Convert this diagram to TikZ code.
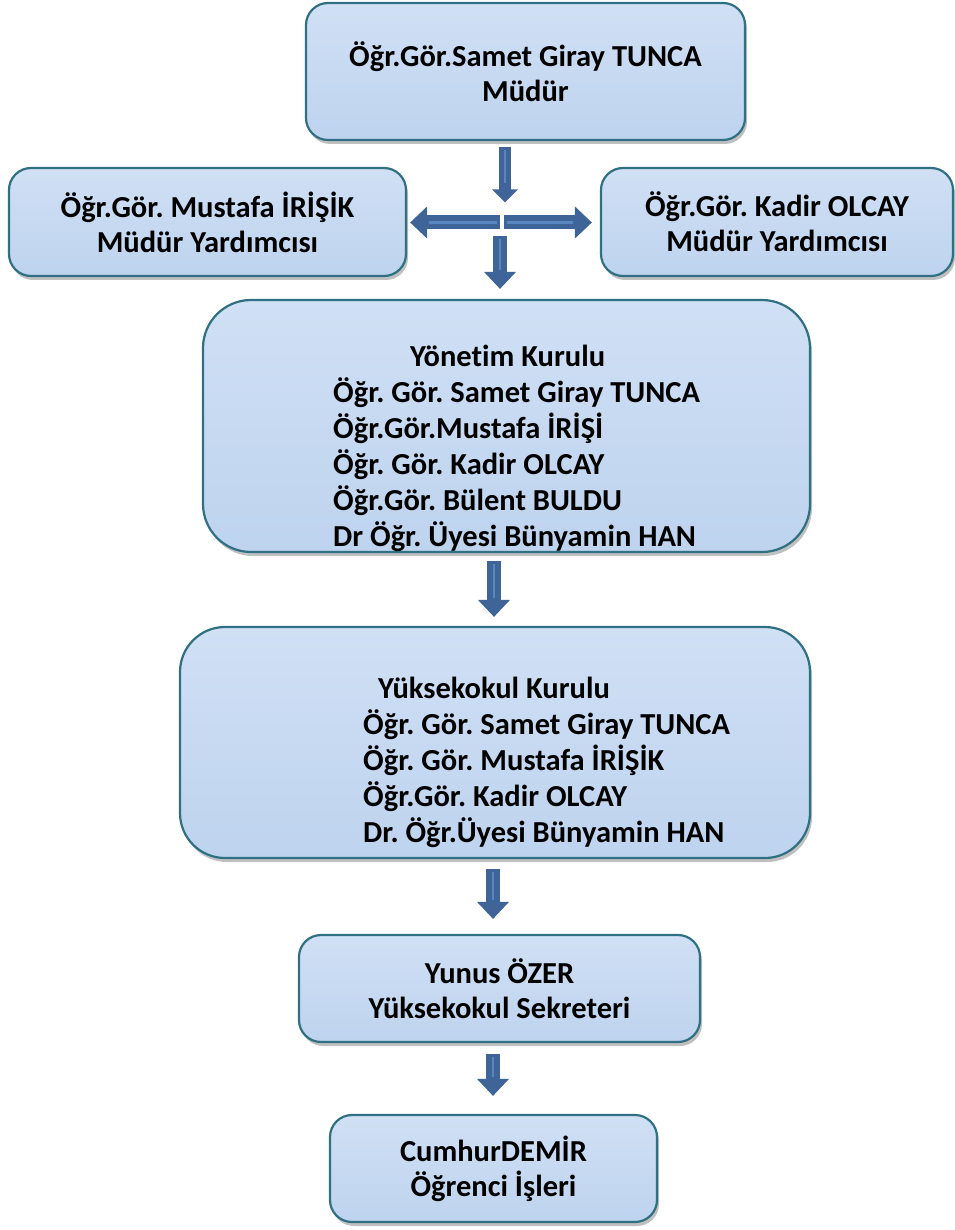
\documentclass[tikz,border=0pt]{standalone}
\usepackage{fontspec}
\setmainfont{Carlito}[Ligatures=NoCommon]
\usetikzlibrary{arrows.meta,shadows,calc}
\definecolor{boxtop}{HTML}{D0E0F5}
\definecolor{boxbot}{HTML}{BED3EE}
\definecolor{boxline}{HTML}{2F7083}
\definecolor{arrowc}{HTML}{3F6598}
\definecolor{stripec}{HTML}{5A86BF}
\frenchspacing
\begin{document}
\begin{tikzpicture}[x=1pt,y=-1pt,
  orgbox/.style={draw=boxline, line width=2.2pt, top color=boxtop, bottom color=boxbot,
    rounded corners=22pt, drop shadow={shadow xshift=2pt,shadow yshift=-4pt,opacity=.35,fill=black!70},
    inner sep=0pt, font=\fontsize{30.5}{35}\selectfont\bfseries, align=center, text=black},
  bigbox/.style={orgbox, rounded corners=48pt},
  lbll/.style={font=\fontsize{30.5}{36}\selectfont\bfseries, align=left, inner sep=0pt, text=black},
  barrow/.style={draw=arrowc, line width=14pt, -{Triangle[width=31pt,length=17pt]},
    postaction={draw=stripec, line width=2.5pt, -, shorten >=19pt, shorten <=3pt}},
]
\useasboundingbox (0,0) rectangle (954,1230);
\fill[white] (0,0) rectangle (954,1230);

\node[orgbox, minimum width=439pt, minimum height=137pt] (top) at (525.5,71.5)
  {Öğr.Gör.Samet Giray TUNCA\\Müdür};
\node[orgbox, minimum width=397pt, minimum height=108pt] (left) at (207.5,222)
  {\rule{0pt}{6pt}Öğr.Gör. Mustafa İRİŞİK\\Müdür Yardımcısı};
\node[orgbox, minimum width=352pt, minimum height=108pt] (right) at (777,222)
  {\rule{0pt}{6pt}Öğr.Gör. Kadir OLCAY\\Müdür Yardımcısı};

\node[bigbox, minimum width=607pt, minimum height=252pt] (yon) at (506.5,426) {};
\node[lbll, anchor=west] (yontxt) at (333,448)
  {\hspace*{77pt}Yönetim Kurulu\\Öğr. Gör. Samet Giray TUNCA\\Öğr.Gör.Mustafa İRİŞİ\\Öğr. Gör. Kadir OLCAY\\Öğr.Gör. Bülent BULDU\\Dr Öğr. Üyesi Bünyamin HAN};

\node[bigbox, rounded corners=45pt, minimum width=630pt, minimum height=231pt] (yk) at (495,742.5) {};
\node[lbll, anchor=west] (yktxt) at (363,762)
  {\hspace*{15pt}Yüksekokul Kurulu\\Öğr. Gör. Samet Giray TUNCA\\Öğr. Gör. Mustafa İRİŞİK\\Öğr.Gör. Kadir OLCAY\\Dr. Öğr.Üyesi Bünyamin HAN};

\node[orgbox, minimum width=401pt, minimum height=107pt] (yun) at (499.5,988.5)
  {Yunus ÖZER\\Yüksekokul Sekreteri};
\node[orgbox, minimum width=327pt, minimum height=107pt] (cum) at (493.5,1168.5)
  {\rule{0pt}{6pt}CumhurDEMİR\\Öğrenci İşleri};

\coordinate (hub) at (502,222.5);
\draw[barrow, line width=12pt, -{Triangle[width=25pt,length=13pt]}]
  ($(hub |- top.south)+(3,6)$) -- ($(hub)+(3,-20)$);
\draw[barrow] ($(hub)+(-2,0)$) -- ($(left.east |- hub)+(3,0)$);
\draw[barrow] ($(hub)+(2,0)$) -- ($(right.west |- hub)+(-8,0)$);
\draw[barrow] ($(hub)+(-2,14)$) -- ($(hub |- yon.north)+(-2,-10)$);
\draw[barrow] ($(yon.south)+(-12.5,8)$) -- ($(yk.north)+(-1,-9)$);
\draw[barrow] ($(yk.south)+(-2,10)$) -- ($(yun.north)+(-6.5,-15)$);
\draw[barrow] ($(yun.south)+(-6.5,11)$) -- ($(cum.north)+(-0.5,-18)$);
\end{tikzpicture}
\end{document}
